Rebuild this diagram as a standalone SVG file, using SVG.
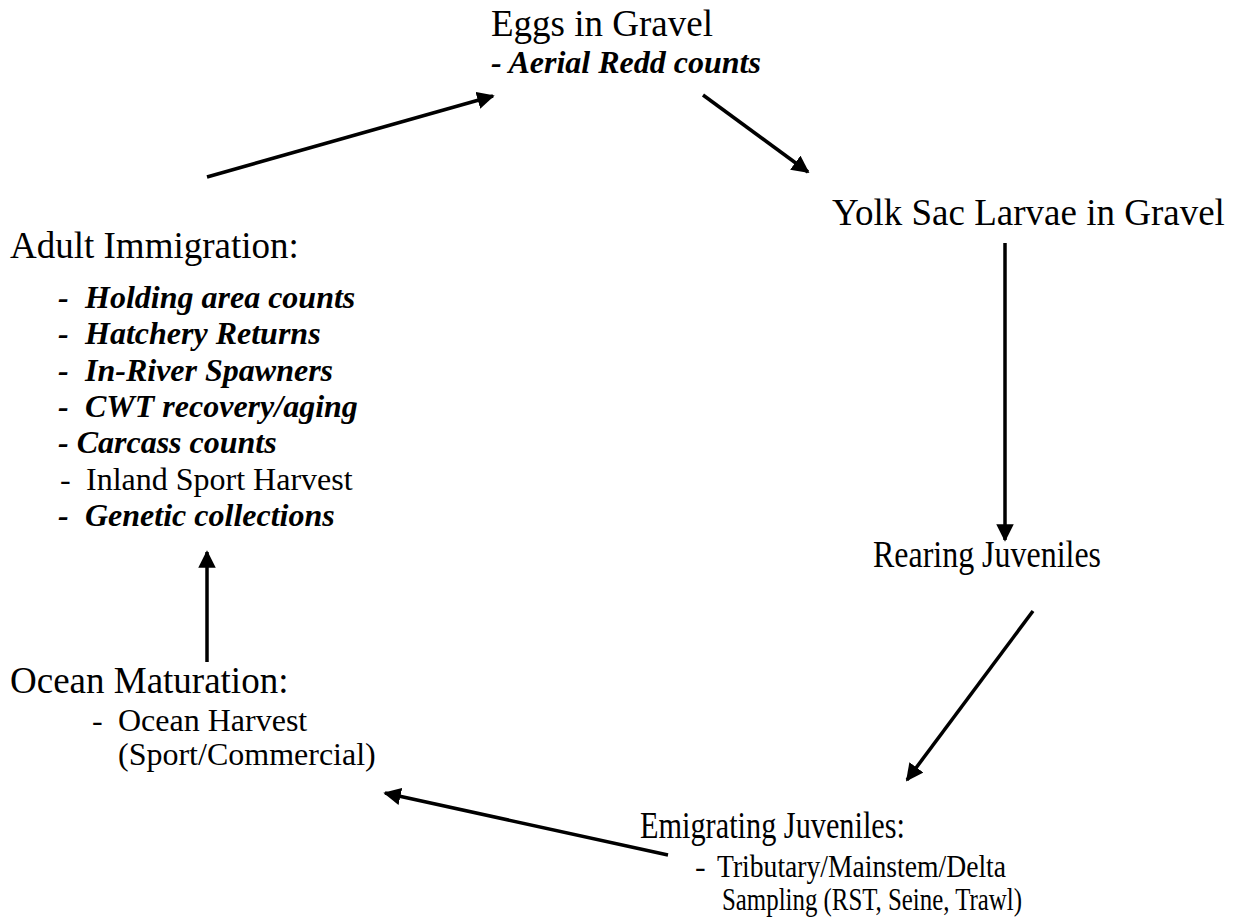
<svg xmlns="http://www.w3.org/2000/svg" width="1235" height="924" viewBox="0 0 1235 924">
<style>
.t{font-family:"Liberation Serif","Times New Roman",serif;font-size:37px;fill:#000}
.s{font-family:"Liberation Serif","Times New Roman",serif;font-size:32px;fill:#000}
.bi{font-weight:bold;font-style:italic}
.c{stroke:#000;stroke-width:3.5;fill:none}
</style>
<defs>
<marker id="ah" viewBox="0 0 10 10" refX="9" refY="5" markerWidth="5" markerHeight="5" markerUnits="strokeWidth" orient="auto">
<path d="M0,0 L10,5 L0,10 z" fill="#000"/>
</marker>
</defs>
<rect width="1235" height="924" fill="#fff"/>
<g id="connectors">
<line class="c" x1="207" y1="177" x2="493" y2="96" marker-end="url(#ah)"/>
<line class="c" x1="703" y1="95" x2="808" y2="172" marker-end="url(#ah)"/>
<line class="c" x1="1005" y1="243" x2="1005" y2="540" marker-end="url(#ah)"/>
<line class="c" x1="1033" y1="611" x2="907" y2="780" marker-end="url(#ah)"/>
<line class="c" x1="668" y1="855" x2="385" y2="793" marker-end="url(#ah)"/>
<line class="c" x1="207" y1="662" x2="207" y2="552" marker-end="url(#ah)"/>
</g>
<g id="eggs">
<text class="t" x="491" y="36">Eggs in Gravel</text>
<text class="s bi" x="491" y="73">- Aerial Redd counts</text>
</g>
<g id="yolk">
<text class="t" x="832" y="225">Yolk Sac Larvae in Gravel</text>
</g>
<g id="rearing">
<text class="t" x="873" y="567" textLength="228" lengthAdjust="spacingAndGlyphs">Rearing Juveniles</text>
</g>
<g id="emigrating">
<text class="t" x="640" y="838" textLength="265" lengthAdjust="spacingAndGlyphs">Emigrating Juveniles:</text>
<text class="s" x="695" y="877">-</text>
<text class="s" x="717" y="877" textLength="289" lengthAdjust="spacingAndGlyphs">Tributary/Mainstem/Delta</text>
<text class="s" x="722" y="910" textLength="300" lengthAdjust="spacingAndGlyphs">Sampling (RST, Seine, Trawl)</text>
</g>
<g id="ocean">
<text class="t" x="10" y="693">Ocean Maturation:</text>
<text class="s" x="92" y="731">-</text>
<text class="s" x="118" y="731">Ocean Harvest</text>
<text class="s" x="118" y="765">(Sport/Commercial)</text>
</g>
<g id="adult">
<text class="t" x="10" y="258">Adult Immigration:</text>
<text class="s bi" x="58" y="308">-</text><text class="s bi" x="85" y="308">Holding area counts</text>
<text class="s bi" x="58" y="344">-</text><text class="s bi" x="85" y="344">Hatchery Returns</text>
<text class="s bi" x="58" y="381">-</text><text class="s bi" x="85" y="381">In-River Spawners</text>
<text class="s bi" x="58" y="417">-</text><text class="s bi" x="85" y="417">CWT recovery/aging</text>
<text class="s bi" x="58" y="453">- Carcass counts</text>
<text class="s" x="60" y="490">-</text><text class="s" x="86" y="490">Inland Sport Harvest</text>
<text class="s bi" x="58" y="526">-</text><text class="s bi" x="85" y="526">Genetic collections</text>
</g>
</svg>
